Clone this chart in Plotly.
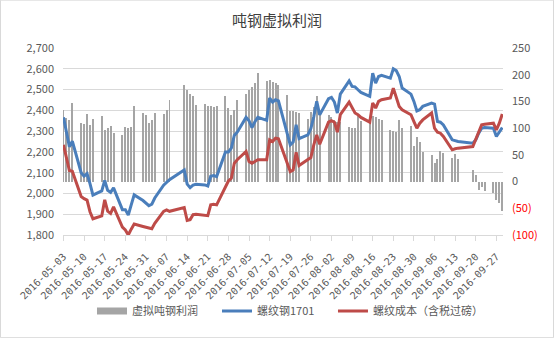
import plotly.graph_objects as go

# Trading days (2016), values per day
dates = [
    "2016-05-03", "2016-05-04", "2016-05-05", "2016-05-06",
    "2016-05-09", "2016-05-10", "2016-05-11", "2016-05-12", "2016-05-13",
    "2016-05-16", "2016-05-17", "2016-05-18", "2016-05-19", "2016-05-20",
    "2016-05-23", "2016-05-24", "2016-05-25", "2016-05-26", "2016-05-27",
    "2016-05-30", "2016-05-31", "2016-06-01", "2016-06-02", "2016-06-03",
    "2016-06-06", "2016-06-07", "2016-06-08",
    "2016-06-13", "2016-06-14", "2016-06-15", "2016-06-16", "2016-06-17",
    "2016-06-20", "2016-06-21", "2016-06-22", "2016-06-23", "2016-06-24",
    "2016-06-27", "2016-06-28", "2016-06-29", "2016-06-30", "2016-07-01",
    "2016-07-04", "2016-07-05", "2016-07-06", "2016-07-07", "2016-07-08",
    "2016-07-11", "2016-07-12", "2016-07-13", "2016-07-14", "2016-07-15",
    "2016-07-18", "2016-07-19", "2016-07-20", "2016-07-21", "2016-07-22",
    "2016-07-25", "2016-07-26", "2016-07-27", "2016-07-28", "2016-07-29",
    "2016-08-01", "2016-08-02", "2016-08-03", "2016-08-04", "2016-08-05",
    "2016-08-08", "2016-08-09", "2016-08-10", "2016-08-11", "2016-08-12",
    "2016-08-15", "2016-08-16", "2016-08-17", "2016-08-18", "2016-08-19",
    "2016-08-22", "2016-08-23", "2016-08-24", "2016-08-25", "2016-08-26",
    "2016-08-29", "2016-08-30", "2016-08-31", "2016-09-01", "2016-09-02",
    "2016-09-05", "2016-09-06", "2016-09-07", "2016-09-08", "2016-09-09",
    "2016-09-12", "2016-09-13", "2016-09-14",
    "2016-09-19", "2016-09-20", "2016-09-21", "2016-09-22", "2016-09-23",
    "2016-09-26", "2016-09-27", "2016-09-28", "2016-09-29",
]

profit = [
    134, 119, 116, 148,
    110, 108, 127, 106, 117,
    122, 97, 100, 104, 91,
    88, 102, 101, 103, 142,
    129, 125, 110, 116, 129,
    127, 134, 153,
    181, 172, 164, 160, 144,
    146, 142, 141, 140, 142,
    161, 137, 124, 134, 153,
    163, 171, 177, 184, 204,
    189, 190, 186, 184, 180,
    162, 133, 133, 130, 128,
    118, 131, 139, 161, 128,
    125, 120, 116, 111, 111,
    103, 101, 100, 122, 114,
    121, 122, 120, 117, 115,
    96, 95, 93, 115, 100,
    104, 66, 83, 74, 55,
    49, 34, 43, 58, 54,
    45, 51, 42,
    21, 13, -15, -11, -18,
    -22, -34, -41, -56,
]

rebar_1701 = [
    2366, 2300, 2225, 2252,
    2100, 2083, 2095, 2047, 1992,
    2012, 2063, 2015, 2005, 2027,
    1922, 1922, 1896, 1945, 1993,
    1966, 1955, 1941, 1948, 1978,
    2040, 2055, 2066,
    2113, 2045, 2028, 2040, 2044,
    2041, 2036, 2083, 2086, 2081,
    2200, 2200, 2218, 2279, 2295,
    2366, 2350, 2317, 2345, 2366,
    2352, 2459, 2440, 2451, 2446,
    2287, 2234, 2248, 2330, 2264,
    2282, 2312, 2370, 2443, 2378,
    2456, 2462, 2440, 2387, 2478,
    2542, 2515, 2513, 2499, 2486,
    2467, 2579, 2531, 2563, 2568,
    2555, 2600, 2591, 2563, 2507,
    2478, 2443, 2397, 2403, 2419,
    2435, 2430, 2346, 2343, 2330,
    2258, 2255, 2250,
    2242, 2258, 2290, 2314, 2317,
    2314, 2274, 2295, 2317,
]

rebar_cost = [
    2234, 2172, 2110, 2107,
    1985, 1975, 1968, 1912, 1878,
    1892, 1969, 1915, 1904, 1935,
    1838, 1824, 1800, 1828, 1853,
    1841, 1837, 1833, 1830, 1856,
    1914, 1921, 1914,
    1932, 1870, 1874, 1898, 1900,
    1896, 1893, 1945, 1948, 1945,
    2033, 2060, 2073, 2145, 2162,
    2202, 2154, 2145, 2154, 2162,
    2162, 2258, 2250, 2266, 2263,
    2145, 2105, 2113, 2198, 2134,
    2162, 2173, 2234, 2282, 2237,
    2343, 2350, 2343, 2295, 2379,
    2440, 2411, 2387, 2379, 2366,
    2343, 2435, 2411, 2443, 2451,
    2459, 2507, 2462, 2419, 2403,
    2379, 2346, 2314, 2338, 2354,
    2387, 2314, 2295, 2290, 2274,
    2210, 2215, 2218,
    2226, 2263, 2295, 2330, 2333,
    2338, 2306, 2338, 2382,
]

right_ticks = [-100, -50, 0, 50, 100, 150, 200, 250]
right_text = [
    "<span style='color:#FF0000'>(100)</span>",
    "<span style='color:#FF0000'>(50)</span>",
    "0", "50", "100", "150", "200", "250",
]

GRID = "#D9D9D9"
TXT = "#595959"
BAR_GRAY = "#A5A5A5"
FONT = "Noto Sans CJK SC, Liberation Sans, sans-serif"
DAY_MS = 86400000

fig = go.Figure()

# profit bars on the right-hand scale
fig.add_trace(go.Bar(
    x=dates, y=profit, name="虚拟吨钢利润", showlegend=False,
    marker=dict(color=BAR_GRAY, line=dict(width=0)),
    width=0.34 * DAY_MS, yaxis="y",
))
# flat swatch for the bar series' legend entry
fig.add_trace(go.Scatter(
    x=[None], y=[None], name="虚拟吨钢利润", mode="lines",
    line=dict(color=BAR_GRAY, width=7), yaxis="y", legend="legend",
))
fig.add_trace(go.Scatter(
    x=dates, y=rebar_1701, name="螺纹钢1701", mode="lines",
    line=dict(color="#4A7EBB", width=3), yaxis="y2", legend="legend2",
))
fig.add_trace(go.Scatter(
    x=dates, y=rebar_cost, name="螺纹成本（含税过磅）", mode="lines",
    line=dict(color="#BE4B48", width=3), yaxis="y2", legend="legend3",
))

legend_common = dict(orientation="h", y=-0.406, yanchor="middle",
                     xanchor="left", font=dict(size=11, color=TXT),
                     itemwidth=30, bgcolor="rgba(0,0,0,0)")

fig.update_layout(
    width=554, height=338,
    margin=dict(l=63, r=51, t=48, b=103, autoexpand=False),
    paper_bgcolor="white", plot_bgcolor="white",
    font=dict(family=FONT, size=10, color=TXT),
    title=dict(text="吨钢虚拟利润", x=0.5, xanchor="center", y=0.94,
               yanchor="middle", font=dict(size=15, color="#404040")),
    showlegend=True,
    legend=dict(x=0.0659, **legend_common),
    legend2=dict(x=0.350, **legend_common),
    legend3=dict(x=0.6136, **legend_common),
    bargap=0,
    xaxis=dict(
        type="date", automargin=False,
        range=["2016-05-02 20:00", "2016-09-29 06:00"],
        tick0="2016-05-03", dtick=7 * DAY_MS,
        tickformat="%Y-%m-%d", tickangle=-45,
        tickfont=dict(size=10, color=TXT, family="DejaVu Sans Mono, monospace"),
        ticklabelstandoff=6,
        showgrid=False, showline=True, linecolor=GRID, linewidth=1,
        ticks="outside", ticklen=5, tickcolor=GRID,
        zeroline=False,
    ),
    yaxis=dict(
        side="right", range=[-100, 250], automargin=False,
        tickvals=right_ticks, ticktext=right_text,
        showgrid=False, zeroline=False, showline=False,
        tickfont=dict(size=11, color=TXT), ticklabelstandoff=8,
    ),
    yaxis2=dict(
        side="left", overlaying="y", range=[1800, 2700], dtick=100,
        automargin=False,
        tickformat=",", showgrid=True, gridcolor=GRID, gridwidth=1,
        zeroline=False, showline=False,
        tickfont=dict(size=11, color=TXT), ticklabelstandoff=8,
    ),
    shapes=[dict(
        type="rect", xref="paper", yref="paper",
        x0=-0.1420, x1=1.1148, y0=-0.549, y1=1.256,
        line=dict(color=GRID, width=1), layer="below",
    )],
)

fig.write_html("out.html")
